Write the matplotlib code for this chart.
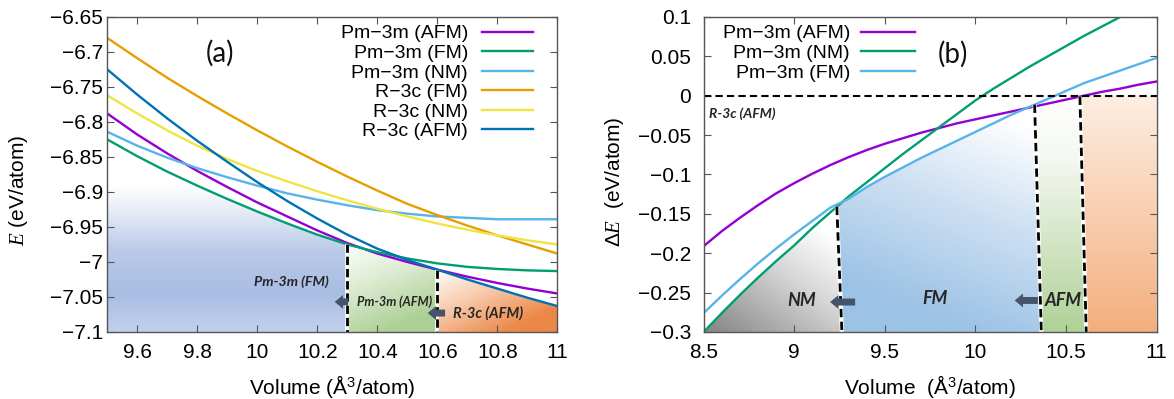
import numpy as np
import matplotlib.pyplot as plt
from matplotlib.colors import LinearSegmentedColormap
from matplotlib.patches import Polygon

plt.rcParams['font.family'] = ['Liberation Sans', 'DejaVu Sans']
plt.rcParams['mathtext.fontset'] = 'custom'
plt.rcParams['mathtext.rm'] = 'Liberation Sans'
plt.rcParams['mathtext.it'] = 'Liberation Serif:italic'

# ---------------- data, panel (a) ----------------
vol_a = [9.5, 9.6, 9.7, 9.8, 9.9, 10.0, 10.1, 10.2, 10.3, 10.4, 10.5, 10.6, 10.7, 10.8, 10.9, 11.0]
e_pm_afm = [-6.788, -6.818, -6.845, -6.870, -6.893, -6.915, -6.935, -6.955, -6.973, -6.988,
            -7.000, -7.011, -7.021, -7.030, -7.038, -7.045]
e_pm_fm = [-6.825, -6.849, -6.871, -6.891, -6.910, -6.928, -6.945, -6.961, -6.975, -6.986,
           -6.995, -7.002, -7.007, -7.010, -7.012, -7.013]
e_pm_nm = [-6.814, -6.834, -6.851, -6.866, -6.879, -6.891, -6.902, -6.911, -6.919, -6.926,
           -6.931, -6.935, -6.937, -6.939, -6.939, -6.939]
e_r_fm = [-6.680, -6.709, -6.737, -6.763, -6.788, -6.812, -6.835, -6.857, -6.878, -6.898,
          -6.917, -6.933, -6.948, -6.962, -6.975, -6.988]
e_r_nm = [-6.762, -6.788, -6.812, -6.834, -6.853, -6.870, -6.885, -6.899, -6.912, -6.924,
          -6.935, -6.945, -6.954, -6.962, -6.969, -6.975]
e_r_afm = [-6.725, -6.761, -6.795, -6.827, -6.857, -6.886, -6.913, -6.938, -6.961, -6.981,
           -6.997, -7.011, -7.025, -7.038, -7.051, -7.063]
labels_a = ['Pm\u22123m (AFM)', 'Pm\u22123m (FM)', 'Pm\u22123m (NM)',
            'R\u22123c (FM)', 'R\u22123c (NM)', 'R\u22123c (AFM)']

# ---------------- data, panel (b) ----------------
vol_b = [8.5, 8.6, 8.7, 8.8, 8.9, 9.0, 9.1, 9.2, 9.3, 9.4, 9.5, 9.6, 9.7, 9.8, 9.9,
         10.0, 10.1, 10.2, 10.3, 10.4, 10.5, 10.6, 10.7, 10.8, 10.9, 11.0]
de_afm = [-0.191, -0.172, -0.155, -0.139, -0.124, -0.111, -0.099, -0.088, -0.078, -0.069,
          -0.061, -0.054, -0.047, -0.041, -0.035, -0.030, -0.025, -0.020, -0.015, -0.010,
          -0.005, 0.000, 0.005, 0.009, 0.014, 0.018]
de_nm = [-0.300, -0.276, -0.253, -0.231, -0.210, -0.190, -0.168, -0.148, -0.128, -0.110,
         -0.092, -0.074, -0.057, -0.040, -0.023, -0.006, 0.009, 0.023, 0.037, 0.050,
         0.063, 0.076, 0.088, 0.100, 0.112, 0.124]
de_fm = [-0.276, -0.254, -0.233, -0.213, -0.194, -0.176, -0.159, -0.142, -0.131, -0.116,
         -0.103, -0.091, -0.079, -0.068, -0.057, -0.046, -0.035, -0.024, -0.014, -0.004,
         0.006, 0.016, 0.024, 0.032, 0.040, 0.048]
labels_b = ['Pm\u22123m (AFM)', 'Pm\u22123m (NM)', 'Pm\u22123m (FM)']

# phase boundaries (volume at top, volume at bottom)
bnd_a = [10.3, 10.6]
bnd_b = [(9.235, 9.263), (10.327, 10.364), (10.577, 10.612)]

c_purple, c_green, c_lblue = '#9400d3', '#009e73', '#56b4e9'
c_orange, c_yellow, c_dblue = '#e69f00', '#f0e442', '#0072b2'
arrow_c = '#44546a'
txt_c = '#262626'


def grad_fill(ax, verts, extent, tfunc, colors):
    cmap = LinearSegmentedColormap.from_list('g', colors)
    xx, yy = np.meshgrid(np.linspace(0, 1, 300), np.linspace(0, 1, 300))
    t = np.clip(tfunc(xx, yy), 0, 1)
    im = ax.imshow(t, cmap=cmap, vmin=0, vmax=1, extent=extent, origin='lower',
                   aspect='auto', zorder=1, interpolation='bilinear')
    poly = Polygon(verts, closed=True, transform=ax.transData,
                   facecolor='none', edgecolor='none')
    ax.add_patch(poly)
    im.set_clip_path(poly)


def curve_pts(xs, ys, x0, x1):
    xg = np.linspace(x0, x1, 60)
    return list(zip(xg, np.interp(xg, xs, ys)))


def region(top_x0, bot_x0, top_x1, bot_x1, xs, ys, ybot):
    return [(bot_x0, ybot)] + curve_pts(xs, ys, top_x0, top_x1) + [(bot_x1, ybot)]


def ticks_txt(vals):
    return [('%g' % v).replace('-', '\u2212') for v in vals]


fig = plt.figure(figsize=(11.74, 3.99), dpi=100)
ax1 = fig.add_axes([0.0914, 0.168, 0.3833, 0.7895])
ax2 = fig.add_axes([0.5994, 0.168, 0.3857, 0.7895])

# ================= panel (a) =================
ya0 = -7.1
grad_fill(ax1, region(9.5, 9.5, bnd_a[0], bnd_a[0], vol_a, e_pm_fm, ya0),
          (9.5, bnd_a[0], ya0, -6.82), lambda x, y: y,
          [(0, '#c2d0ec'), (0.2, '#a9bde3'), (0.42, '#bccbe9'), (0.6, '#e3e9f6'),
           (0.75, '#ffffff'), (1, '#ffffff')])
grad_fill(ax1, region(bnd_a[0], bnd_a[0], bnd_a[1], bnd_a[1], vol_a, e_pm_afm, ya0),
          (bnd_a[0], bnd_a[1], ya0, -6.97), lambda x, y: 0.85 * (1 - y) + 0.35 * x,
          [(0, '#ffffff'), (0.4, '#e3efda'), (1, '#add096')])
grad_fill(ax1, region(bnd_a[1], bnd_a[1], 11.0, 11.0, vol_a, e_r_afm, ya0),
          (bnd_a[1], 11.0, ya0, -7.01), lambda x, y: 0.65 * (1 - y) + 0.6 * x,
          [(0, '#ffffff'), (0.45, '#f8cdb0'), (1, '#ec8848')])

lines_a = []
for ys, c in zip([e_pm_afm, e_pm_fm, e_pm_nm, e_r_fm, e_r_nm, e_r_afm],
                 [c_purple, c_green, c_lblue, c_orange, c_yellow, c_dblue]):
    lines_a += ax1.plot(vol_a, ys, color=c, lw=1.7, zorder=3)

for xb, ys in zip(bnd_a, [e_pm_fm, e_pm_afm]):
    ytop = np.interp(xb, vol_a, ys)
    ax1.plot([xb, xb], [ytop, ya0], color='white', lw=2.6, zorder=4, solid_capstyle='butt')
    ax1.plot([xb, xb], [ytop, ya0], color='black', lw=2.0, ls=(0, (3, 1.4)), zorder=5)

bold_it = dict(family=['Lato', 'DejaVu Sans'], weight='bold', style='italic', color=txt_c)
ax1.text(10.112, -7.028, 'Pm-3m (FM)', ha='center', va='center', fontsize=10.3, zorder=6, **bold_it)
ax1.text(10.456, -7.057, 'Pm-3m (AFM)', ha='center', va='center', fontsize=9.2, zorder=6, **bold_it)
ax1.text(10.77, -7.073, 'R-3c (AFM)', ha='center', va='center', fontsize=10.5, zorder=6, **bold_it)

arrow_props = dict(arrowstyle='simple,head_length=0.6,head_width=1.0,tail_width=0.5',
                   color=arrow_c, lw=0, shrinkA=0, shrinkB=0)
ax1.annotate('', xy=(10.258, -7.057), xytext=(10.303, -7.057), arrowprops=arrow_props, zorder=6)
ax1.annotate('', xy=(10.568, -7.073), xytext=(10.626, -7.073), arrowprops=arrow_props, zorder=6)

ax1.text(9.876, -6.702, '(a)', ha='center', va='center', fontsize=20,
         family=['Lato', 'DejaVu Sans'], color='#111111')

ax1.set_xlim(9.5, 11)
ax1.set_ylim(-7.1, -6.65)
xt_a = [9.6, 9.8, 10.0, 10.2, 10.4, 10.6, 10.8, 11.0]
yt_a = list(np.round(np.arange(-7.1, -6.649, 0.05), 2))
ax1.set_xticks(xt_a)
ax1.set_xticklabels(ticks_txt(xt_a))
ax1.set_yticks(yt_a)
ax1.set_yticklabels(ticks_txt(yt_a))
ax1.tick_params(axis='y', pad=3)
ax1.set_xlabel('Volume (Å$^3$/atom)', fontsize=15)
ax1.xaxis.set_label_coords(0.5, -0.13)
ax1.set_ylabel('$E$ (eV/atom)', fontsize=15)
ax1.yaxis.set_label_coords(-0.172, 0.45)
ax1.legend(lines_a, labels_a, loc='upper right', bbox_to_anchor=(0.947, 0.975), frameon=False,
           markerfirst=False, fontsize=14, handlelength=2.65, handletextpad=0.72,
           labelspacing=0.1, borderpad=0, borderaxespad=0)

# ================= panel (b) =================
yb0 = -0.3
(n0, n1), (f0, f1), (a0, a1) = bnd_b
grad_fill(ax2, region(8.5, 8.5, n0, n1, vol_b, de_nm, yb0),
          (8.5, n1, yb0, -0.13), lambda x, y: 1.05 - 0.55 * x - 0.75 * y,
          [(0, '#ffffff'), (0.4, '#d6d6d6'), (1, '#8a8a8a')])
grad_fill(ax2, region(n0, n1, f0, f1, vol_b, de_fm, yb0),
          (n0, f1, yb0, -0.01), lambda x, y: 1.0 * (1 - y) + 0.35 * (1 - x) - 0.12,
          [(0, '#ffffff'), (0.45, '#cfe1f3'), (1, '#9cc2e5')])
grad_fill(ax2, region(f0, f1, a0, a1, vol_b, de_afm, yb0),
          (f0, a1, yb0, 0.0), lambda x, y: 1 - y,
          [(0, '#ffffff'), (0.25, '#f6f9f2'), (1, '#afd197')])
grad_fill(ax2, [(a1, yb0), (a0, 0.0), (11.0, 0.0), (11.0, yb0)],
          (a0, 11.0, yb0, 0.0), lambda x, y: 1 - y,
          [(0, '#fdeee3'), (1, '#f4ae7d')])

lines_b = []
for ys, c in zip([de_afm, de_nm, de_fm], [c_purple, c_green, c_lblue]):
    lines_b += ax2.plot(vol_b, ys, color=c, lw=1.7, zorder=3)

ax2.axhline(0, color='black', lw=1.5, ls=(0, (3.5, 2)), zorder=4)
for (xt, xbt), ys in zip(bnd_b, [de_nm, de_fm, de_afm]):
    ytop = np.interp(xt, vol_b, ys)
    ax2.plot([xt, xbt], [ytop, yb0], color='white', lw=3.0, zorder=4, solid_capstyle='butt')
    ax2.plot([xt, xbt], [ytop, yb0], color='black', lw=2.0, ls=(0, (3, 1.6)), zorder=5)

ax2.text(8.53, -0.023, 'R-3c (AFM)', ha='left', va='center', fontsize=10, zorder=6, **bold_it)
ax2.text(9.042, -0.260, 'NM', ha='center', va='center', fontsize=13, zorder=6, **bold_it)
ax2.text(9.775, -0.258, 'FM', ha='center', va='center', fontsize=13, zorder=6, **bold_it)
ax2.text(10.483, -0.260, 'AFM', ha='center', va='center', fontsize=13, zorder=6, **bold_it)
ax2.annotate('', xy=(9.198, -0.262), xytext=(9.336, -0.262), arrowprops=arrow_props, zorder=6)
ax2.annotate('', xy=(10.217, -0.260), xytext=(10.345, -0.260), arrowprops=arrow_props, zorder=6)

ax2.text(9.877, 0.053, '(b)', ha='center', va='center', fontsize=20,
         family=['Lato', 'DejaVu Sans'], color='#111111')

ax2.set_xlim(8.5, 11)
ax2.set_ylim(-0.3, 0.1)
xt_b = [8.5, 9.0, 9.5, 10.0, 10.5, 11.0]
yt_b = list(np.round(np.arange(-0.3, 0.101, 0.05), 2))
ax2.set_xticks(xt_b)
ax2.set_xticklabels(ticks_txt(xt_b))
ax2.set_yticks(yt_b)
ax2.set_yticklabels(ticks_txt([0.0 if abs(v) < 1e-9 else v for v in yt_b]))
ax2.tick_params(axis='y', pad=9)
ax2.set_xlabel('Volume  (Å$^3$/atom)', fontsize=15)
ax2.xaxis.set_label_coords(0.5, -0.13)
ax2.set_ylabel('$\\Delta E$  (eV/atom)', fontsize=15)
ax2.yaxis.set_label_coords(-0.172, 0.476)
ax2.legend(lines_b, labels_b, loc='upper right', bbox_to_anchor=(0.467, 0.975), frameon=False,
           markerfirst=False, fontsize=14, handlelength=2.8, handletextpad=0.55,
           labelspacing=0.1, borderpad=0, borderaxespad=0)

for ax in (ax1, ax2):
    ax.tick_params(direction='in', length=5, width=0.8, top=True, right=True,
                   labelsize=15, color='#555555')
    ax.tick_params(axis='x', pad=8)
    for s in ax.spines.values():
        s.set_color('#555555')
        s.set_linewidth(1.0)
        s.set_zorder(7)

fig.savefig('out.png', dpi=100)
